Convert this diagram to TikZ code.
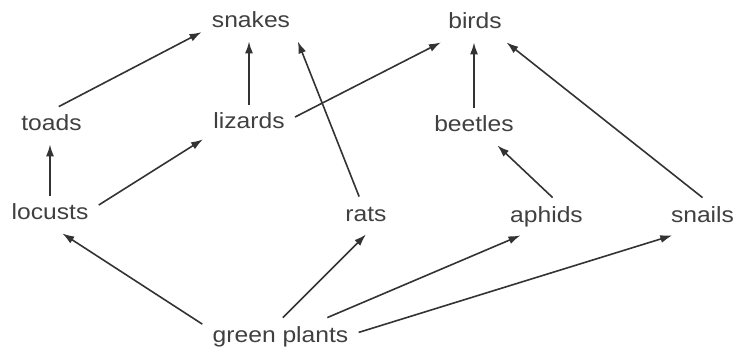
\documentclass[tikz,border=0pt]{standalone}
\usepackage{fontspec}
\newfontfamily\foodfont[FakeStretch=1.12]{Liberation Sans}
\usetikzlibrary{arrows.meta}
\begin{document}
\begin{tikzpicture}[
    x=0.5pt,y=-0.5pt,
    animal/.style={anchor=base,text=black!75,font=\foodfont\fontsize{11}{13}\selectfont,
        text height=8pt,text depth=2.5pt,inner xsep=5pt,inner ysep=4pt},
    eats/.style={-{Latex[length=6pt,width=4pt]},line width=0.8pt,draw=black!80}
]
\useasboundingbox (0,0) rectangle (737,352);
\node[animal] (snakes)  at (251,28)   {snakes};
\node[animal] (birds)   at (475,29)   {birds};
\node[animal] (toads)   at (51.5,131) {toads};
\node[animal] (lizards) at (249,129)  {lizards};
\node[animal] (beetles) at (474,132)  {beetles};
\node[animal] (locusts) at (50,220)   {locusts};
\node[animal] (rats)    at (366,221)  {rats};
\node[animal] (aphids)  at (546.5,222) {aphids};
\node[animal] (snails)  at (702.5,222) {snails};
\node[animal] (plants)  at (280.5,342) {green plants};

\draw[eats] (toads.69) -- (snakes.191);
\draw[eats] (lizards.north) -- (lizards.north |- snakes.south);
\draw[eats] (rats.110) -- (snakes.338);
\draw[eats] (lizards.8) -- (birds.209);
\draw[eats] (beetles.north) -- (beetles.north |- birds.south);
\draw[eats] (snails.north) -- (birds.329);
\draw[eats] (locusts.north) -- (locusts.north |- toads.south);
\draw[eats] (locusts.11) -- (lizards.199);
\draw[eats] (aphids.72) -- (beetles.321);
\draw[eats] (plants.171) -- (locusts.303);
\draw[eats] (plants.83) -- (rats.south);
\draw[eats] (plants.22) -- (aphids.216);
\draw[eats] (plants.3) -- (snails.212);
\end{tikzpicture}
\end{document}
